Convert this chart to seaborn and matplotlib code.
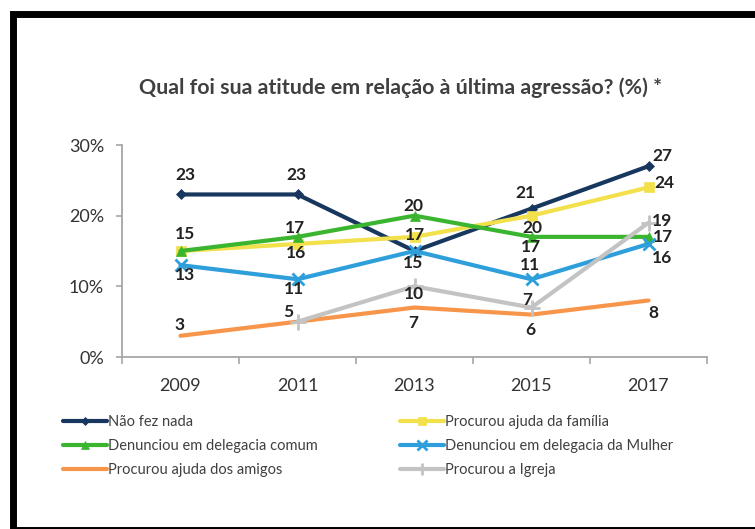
import numpy as np
import pandas as pd
import seaborn as sns
import matplotlib
matplotlib.use("Agg")
import matplotlib.pyplot as plt
from matplotlib.patches import Rectangle
from matplotlib.lines import Line2D

# ---------------- data ----------------
years = ["2009", "2011", "2013", "2015", "2017"]
nao_fez_nada = [23, 23, 15, 21, 27]
ajuda_familia = [15, 16, 17, 20, 24]
delegacia_comum = [15, 17, 20, 17, 17]
delegacia_mulher = [13, 11, 15, 11, 16]
ajuda_amigos = [3, 5, 7, 6, 8]
igreja = [np.nan, 5, 10, 7, 19]

series_names = [
    "Não fez nada",
    "Procurou ajuda da família",
    "Denunciou em delegacia comum",
    "Denunciou em delegacia da Mulher",
    "Procurou ajuda dos amigos",
    "Procurou a Igreja",
]
series_values = [nao_fez_nada, ajuda_familia, delegacia_comum,
                 delegacia_mulher, ajuda_amigos, igreja]

title = "Qual foi sua atitude em relação à última agressão? (%) *"
y_ticks = [0, 10, 20, 30]
y_ticklabels = ["0%", "10%", "20%", "30%"]

# ---------------- styles ----------------
colors = ["#17375E", "#F2E04C", "#3BB52F", "#2E9FDB", "#F7964A", "#C3C3C3"]
markers = ["D", "s", "^", "x", None, "+"]
msizes = [5, 7, 7, 9, 0, 11]

# label offsets (pixels) per series, per year; None = no label
label_offsets = [
    [(5, 19), (-1, 19), None, (-6, 16), (14, 10)],
    [None, (-1, -9), (0, 2), (1, -12), (16, 4)],
    [(5, 17), (-3, 9), (-1, 10), (-1, -10), (14, 0)],
    [(5, -10), (-3, -10), (-1, -12), (-1, 14), (14, -14)],
    [(-1, 11), (-9, 10), (-1, -15), (-1, -15), (5, -13)],
    [None, None, (-1, -8), (-4, 8), (14, 2)],
]

sns.set_theme(style="white")
plt.rcParams["font.family"] = ["Lato", "DejaVu Sans"]

W, H = 755, 529
fig = plt.figure(figsize=(W / 100, H / 100), dpi=100)
fig.patch.set_facecolor("white")

ax = fig.add_axes([122 / W, 1 - 357 / H, (707 - 122) / W, (357 - 145) / H])
ax.set_facecolor("none")

x = np.arange(len(years))
rows = []
for name, vals in zip(series_names, series_values):
    for xi, v in zip(x, vals):
        rows.append({"x": xi, "y": v, "serie": name})
df = pd.DataFrame(rows)

for i, name in enumerate(series_names):
    sub = df[df["serie"] == name].dropna()
    sns.lineplot(data=sub, x="x", y="y", ax=ax, color=colors[i], lw=3.0,
                 marker=markers[i] if markers[i] else None,
                 markersize=msizes[i], markeredgewidth=2 if markers[i] in ("x", "+") else 0.5,
                 markeredgecolor=colors[i], legend=False, zorder=3)

for i, vals in enumerate(series_values):
    for xi, v in zip(x, vals):
        off = label_offsets[i][xi]
        if off is None or np.isnan(v):
            continue
        ax.annotate(f"{int(v)}", (xi, v), xytext=off, textcoords="offset pixels",
                    ha="center", va="center", fontsize=12.5, fontweight="bold",
                    color="#222222", zorder=5)

ax.set_xlim(-0.5, len(years) - 0.5)
ax.set_ylim(0, 30)
ax.set_yticks(y_ticks)
ax.set_yticklabels(y_ticklabels)
ax.set_xticks(x)
ax.set_xticklabels(years)
ax.set_xticks(np.arange(-0.5, len(years)), minor=True)
ax.tick_params(axis="x", which="major", length=0, pad=15, labelsize=13, labelcolor="#333333")
ax.tick_params(axis="x", which="minor", length=5, width=1.2, color="#A6A6A6", direction="out", bottom=True)
ax.tick_params(axis="y", length=4, width=1.2, color="#A6A6A6", direction="out", pad=9,
               labelsize=13, labelcolor="#333333", left=True)
ax.set_xlabel("")
ax.set_ylabel("")
for s in ["top", "right"]:
    ax.spines[s].set_visible(False)
for s in ["left", "bottom"]:
    ax.spines[s].set_color("#A6A6A6")
    ax.spines[s].set_linewidth(1.3)

fig.text(401 / W, 1 - 88 / H, title, ha="center", va="center", fontsize=15.4,
         fontweight="bold", color="#404040")

# legends (two columns)
def handle(i):
    return Line2D([0], [0], color=colors[i], lw=3.0, marker=markers[i] if markers[i] else None,
                  markersize=msizes[i] * 0.8, markeredgewidth=2 if markers[i] in ("x", "+") else 0.5,
                  markeredgecolor=colors[i])

leg_kw = dict(frameon=False, fontsize=10.5, handlelength=3.0, handletextpad=0.1,
              labelspacing=0.7, borderpad=0, borderaxespad=0, labelcolor="#404040")
col1 = [0, 2, 4]
col2 = [1, 3, 5]
fig.legend([handle(i) for i in col1], [series_names[i] for i in col1],
           loc="upper left", bbox_to_anchor=(63 / W, 1 - 415 / H), **leg_kw)
fig.legend([handle(i) for i in col2], [series_names[i] for i in col2],
           loc="upper left", bbox_to_anchor=(400 / W, 1 - 415 / H), **leg_kw)

# black frame
fig.patches.append(Rectangle((12.5 / W, -1 / H), (W + 60) / W, 1 - 13.5 / H + 1 / H,
                             transform=fig.transFigure, fill=False, edgecolor="black",
                             lw=5.0, zorder=10))

fig.savefig("out.png", dpi=100)
